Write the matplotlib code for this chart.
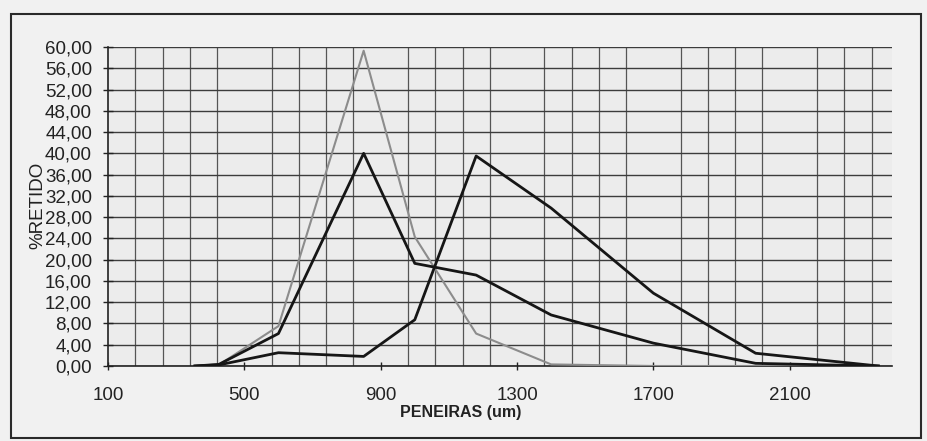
import matplotlib
matplotlib.use("Agg")
import matplotlib.pyplot as plt
from matplotlib.ticker import MultipleLocator, FixedLocator, FuncFormatter
from matplotlib.patches import Rectangle

# ---- data ----
peneiras = [355, 425, 600, 850, 1000, 1180, 1400, 1700, 2000, 2360]
serie_cinza = [0.0, 0.2, 7.5, 59.3, 24.3, 6.1, 0.3, 0.0, 0.0, 0.0]
serie_preta1 = [0.0, 0.3, 6.1, 40.0, 19.3, 17.1, 9.6, 4.3, 0.5, 0.0]
serie_preta2 = [0.0, 0.2, 2.5, 1.8, 8.7, 39.5, 29.7, 13.7, 2.4, 0.0]
x_ticks = [100, 500, 900, 1300, 1700, 2100]
y_ticks = list(range(0, 61, 4))

W, H = 927, 441
plt.rcParams['font.family'] = ['Liberation Sans', 'DejaVu Sans']

fig = plt.figure(figsize=(W / 100, H / 100), dpi=100)
fig.patch.set_facecolor('#f1f1f1')

def fx(px):
    return px / W

def fy(py):
    return 1 - py / H

left, right, top, bottom = 108, 892, 47, 366
ax = fig.add_axes([fx(left), fy(bottom), fx(right) - fx(left), fy(top) - fy(bottom)])
ax.set_facecolor('#ececec')

ax.plot(peneiras, serie_cinza, color='#8c8c8c', lw=1.5, zorder=3)
ax.plot(peneiras, serie_preta1, color='#161616', lw=2.0, zorder=4)
ax.plot(peneiras, serie_preta2, color='#161616', lw=2.0, zorder=4)

ax.set_xlim(100, 2400)
ax.set_ylim(0, 60)
ax.xaxis.set_major_locator(FixedLocator(x_ticks))
ax.xaxis.set_minor_locator(MultipleLocator(80, offset=20))
ax.yaxis.set_major_locator(FixedLocator(y_ticks))
ax.yaxis.set_major_formatter(FuncFormatter(lambda v, p: f"{v:.2f}".replace('.', ',')))

ax.grid(True, which='major', axis='y', color='#3c3c3c', lw=1.0, zorder=1)
ax.grid(True, which='minor', axis='x', color='#555555', lw=0.9, zorder=1)

for s in ['top', 'right']:
    ax.spines[s].set_visible(False)
ax.spines['left'].set_color('#222222')
ax.spines['bottom'].set_color('#222222')
ax.spines['left'].set_linewidth(1.2)
ax.spines['bottom'].set_linewidth(1.2)

ax.tick_params(axis='y', which='major', direction='inout', length=7, width=1,
               labelsize=13.5, pad=8, colors='#222222')
ax.tick_params(axis='x', which='major', direction='inout', length=6, width=1,
               labelsize=13.5, pad=12, colors='#222222')
ax.tick_params(axis='x', which='minor', length=0)

# axis titles
fig.text(fx(38), fy(205), '%RETIDO', rotation=90, ha='center', va='center',
         fontsize=13.5, color='#222222')
fig.text(fx(400), fy(412), 'PENEIRAS (um)', ha='left', va='center',
         fontsize=11.5, fontweight='bold', color='#222222')

# outer frame of the chart
fig.patches.append(Rectangle((fx(11), fy(438)), fx(921) - fx(11), fy(14) - fy(438),
                             transform=fig.transFigure, fill=False,
                             edgecolor='#2a2a2a', lw=1.5))

fig.savefig('out.png', dpi=100, facecolor=fig.get_facecolor())
